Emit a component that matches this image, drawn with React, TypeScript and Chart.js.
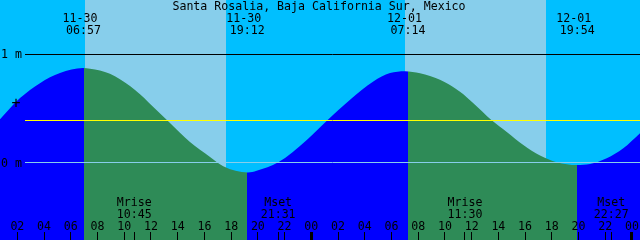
import React, { useEffect, useRef } from "react";
import { Chart, registerables } from "chart.js";

Chart.register(...registerables);

const titleText = "Santa Rosalia, Baja California Sur, Mexico";

// Tide curve: hours since 11-30 00:00, level in metres
const tideHours = [
  0.7, 2.2, 3.69, 5.19, 6.91, 7.44, 8.93, 10.43, 11.18, 12.43, 13.25, 14.17, 14.92,
  16.42, 17.41, 19.26, 19.91, 21.53, 23.66, 25.2, 26.9, 28.64, 29.89, 31.01, 32.14,
  33.63, 35.13, 36.13, 37.5, 38.63, 39.87, 41.12, 42.37, 43.87, 44.86, 46.11, 47.35, 48.6,
];
const tideLevels = [
  0.398, 0.593, 0.731, 0.824, 0.87, 0.864, 0.818, 0.705, 0.628, 0.48, 0.385, 0.274, 0.187,
  0.049, -0.036, -0.094, -0.078, 0.0, 0.206, 0.389, 0.579, 0.747, 0.824, 0.842, 0.822,
  0.762, 0.651, 0.546, 0.389, 0.281, 0.16, 0.063, 0.001, -0.025, -0.016, 0.037, 0.13, 0.269,
];

// Sunrise / sunset
const sunDates = ["11-30", "11-30", "12-01", "12-01"];
const sunTimes = ["06:57", "19:12", "07:14", "19:54"];
const sunHours = [6.95, 19.2, 31.233, 43.9];

// Light sky bands (as drawn)
const skyBandStarts = [7.06, 31.01];
const skyBandEnds = [17.62, 41.57];

// Moon events
const moonNames = ["Mrise", "Mset", "Mrise", "Mset"];
const moonTimes = ["10:45", "21:31", "11:30", "22:27"];
const moonHours = [10.75, 21.517, 35.5, 46.45];

// Hour ticks
const hourTicks = [2, 4, 6, 8, 10, 12, 14, 16, 18, 20, 22, 24, 26, 28, 30, 32, 34, 36, 38, 40, 42, 44, 46, 48];
const hourLabels = ["02", "04", "06", "08", "10", "12", "14", "16", "18", "20", "22", "00", "02", "04", "06", "08", "10", "12", "14", "16", "18", "20", "22", "00"];

// Level marks
const levelValues = [1, 0.5, 0];
const levelLabels = ["1 m", "+", "0 m"];
const meanLevel = 0.386;

const X_MIN = 0.7;
const X_MAX = 48.6;
const Y_MIN = -0.717;
const Y_MAX = 1.499;

const FONT = '11.6px "DejaVu Sans Mono", monospace';
const PLUS_FONT = '15px "DejaVu Sans Mono", monospace';

const tidePlugin = {
  id: "tidePlugin",
  afterDatasetsDraw(chart: any) {
    const { ctx, chartArea, scales } = chart;
    const xs = scales.x;
    const W = chartArea.right;
    const H = chartArea.bottom;
    ctx.save();
    // daylight water colour, only where water has been painted
    ctx.globalCompositeOperation = "source-atop";
    ctx.fillStyle = "#2E8B57";
    for (let i = 0; i + 1 < sunHours.length; i += 2) {
      const a = xs.getPixelForValue(sunHours[i]);
      const b = xs.getPixelForValue(sunHours[i + 1]);
      ctx.fillRect(Math.round(a), 0, Math.round(b) - Math.round(a), H);
    }
    // sky behind the water
    ctx.globalCompositeOperation = "destination-over";
    ctx.fillStyle = "#87CEEB";
    for (let i = 0; i < skyBandStarts.length; i++) {
      const a = Math.round(xs.getPixelForValue(skyBandStarts[i]));
      const b = Math.round(xs.getPixelForValue(skyBandEnds[i]));
      ctx.fillRect(a, 0, b - a, H);
    }
    ctx.fillStyle = "#00BFFF";
    ctx.fillRect(0, 0, W, H);
    ctx.restore();
  },
  afterDraw(chart: any) {
    const { ctx, chartArea, scales } = chart;
    const xs = scales.x;
    const ys = scales.y;
    const W = chartArea.right;
    const H = chartArea.bottom;
    ctx.save();
    // horizontal level lines
    const hline = (v: number, color: string) => {
      const y = Math.floor(ys.getPixelForValue(v)) + 0.5;
      ctx.strokeStyle = color;
      ctx.lineWidth = 1;
      ctx.beginPath();
      ctx.moveTo(25, y);
      ctx.lineTo(W, y);
      ctx.stroke();
    };
    hline(1, "#000000");
    hline(meanLevel, "#FFFF00");
    hline(0, "#87CEEB");

    ctx.fillStyle = "#000000";
    ctx.font = FONT;
    ctx.textBaseline = "alphabetic";

    // title
    ctx.textAlign = "center";
    ctx.fillText(titleText, 319, 10);

    // sun labels
    for (let i = 0; i < sunHours.length; i++) {
      const x = xs.getPixelForValue(sunHours[i]);
      ctx.fillText(sunDates[i], x - 3.5, 22);
      ctx.fillText(sunTimes[i], x, 34);
    }

    // moon labels
    for (let i = 0; i < moonHours.length; i++) {
      const x = xs.getPixelForValue(moonHours[i]);
      ctx.fillText(moonNames[i], x, 206);
      ctx.fillText(moonTimes[i], x, 218);
    }

    // hour labels and ticks
    for (let i = 0; i < hourTicks.length; i++) {
      const px = xs.getPixelForValue(hourTicks[i]);
      ctx.fillText(hourLabels[i], px, 230);
      const midnight = hourTicks[i] % 24 === 0;
      if (midnight) {
        ctx.fillRect(Math.floor(px) - 1, 232, 3, H - 232);
      } else {
        ctx.fillRect(Math.floor(px), 232, 1, H - 232);
      }
    }
    for (let i = 0; i < moonHours.length; i++) {
      const px = xs.getPixelForValue(moonHours[i]);
      ctx.fillRect(Math.floor(px), 232, 1, H - 232);
    }

    // level labels
    for (let i = 0; i < levelValues.length; i++) {
      const y = ys.getPixelForValue(levelValues[i]);
      if (levelLabels[i] === "+") {
        ctx.font = PLUS_FONT;
        ctx.textAlign = "center";
        ctx.textBaseline = "middle";
        ctx.fillText(levelLabels[i], 16, y - 4.5);
        ctx.font = FONT;
        ctx.textBaseline = "alphabetic";
      } else {
        ctx.textAlign = "left";
        ctx.fillText(levelLabels[i], 1, y + 4.3);
      }
    }
    ctx.restore();
  },
};

export default function App() {
  const ref = useRef<HTMLCanvasElement | null>(null);
  useEffect(() => {
    if (!ref.current) return;
    const points = tideHours.map((h, i) => ({ x: h, y: tideLevels[i] }));
    const chart = new Chart(ref.current, {
      type: "line",
      data: {
        datasets: [
          {
            data: points,
            fill: "start",
            backgroundColor: "#0000FF",
            borderWidth: 0,
            borderColor: "rgba(0,0,0,0)",
            pointRadius: 0,
            cubicInterpolationMode: "monotone",
          },
        ],
      },
      options: {
        animation: false,
        responsive: false,
        maintainAspectRatio: false,
        events: [],
        layout: { padding: 0 },
        parsing: false,
        scales: {
          x: { type: "linear", min: X_MIN, max: X_MAX, display: false },
          y: { type: "linear", min: Y_MIN, max: Y_MAX, display: false },
        },
        plugins: {
          legend: { display: false },
          tooltip: { enabled: false },
          title: { display: false },
        },
      },
      plugins: [tidePlugin],
    } as any);
    return () => chart.destroy();
  }, []);
  return (
    <div style={{ position: "fixed", left: 0, top: 0, width: 640, height: 240 }}>
      <canvas ref={ref} width={640} height={240} style={{ display: "block" }} />
    </div>
  );
}
